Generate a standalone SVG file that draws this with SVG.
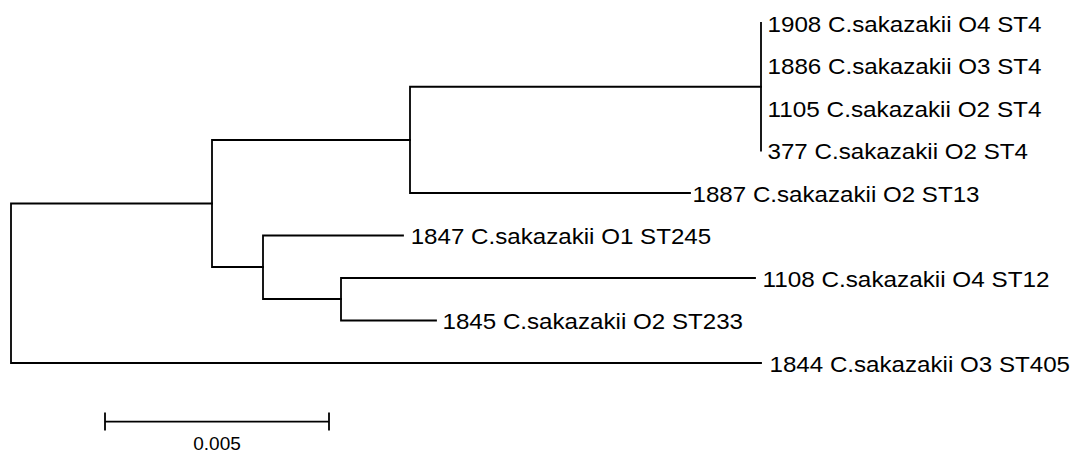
<svg xmlns="http://www.w3.org/2000/svg" width="1084" height="453" viewBox="0 0 1084 453">
  <style>
    .br { fill: none; stroke: #000; stroke-width: 1.8; stroke-linecap: square; }
    .lbl { font-family: "Liberation Sans", Arial, sans-serif; font-size: 22.5px; fill: #000; }
    .scale { font-family: "Liberation Sans", Arial, sans-serif; font-size: 19px; fill: #000; }
  </style>
  <rect width="1084" height="453" fill="#fff"/>

  <!-- tree branches -->
  <g id="connectors">
    <!-- root -->
    <path class="br" d="M11,203.5 V363 M11,203.5 H212 M11,363 H761"/>
    <!-- inner node joining the two main clades -->
    <path class="br" d="M212,140 V267 M212,140 H410 M212,267 H263"/>
    <!-- ST4 / ST13 clade -->
    <path class="br" d="M410,86.75 V193 M410,86.75 H761 M410,193 H690"/>
    <!-- ST4 polytomy -->
    <path class="br" d="M761,23 V150.5"/>
    <!-- ST245 / ST12 / ST233 clade -->
    <path class="br" d="M263,235.5 V299 M263,235.5 H403 M263,299 H341"/>
    <path class="br" d="M341,278 V320.5 M341,278 H755 M341,320.5 H436"/>
  </g>

  <!-- leaves (labels are slightly widened to the tree's print width) -->
  <g id="leaf-1908"><text class="lbl" x="767.5" y="31.5" textLength="274" lengthAdjust="spacingAndGlyphs">1908 C.sakazakii O4 ST4</text></g>
  <g id="leaf-1886"><text class="lbl" x="767.5" y="74" textLength="274" lengthAdjust="spacingAndGlyphs">1886 C.sakazakii O3 ST4</text></g>
  <g id="leaf-1105"><text class="lbl" x="767.5" y="116.5" textLength="274" lengthAdjust="spacingAndGlyphs">1105 C.sakazakii O2 ST4</text></g>
  <g id="leaf-377"><text class="lbl" x="767.5" y="159" textLength="260.5" lengthAdjust="spacingAndGlyphs">377 C.sakazakii O2 ST4</text></g>
  <g id="leaf-1887"><text class="lbl" x="692.5" y="201.5" textLength="287" lengthAdjust="spacingAndGlyphs">1887 C.sakazakii O2 ST13</text></g>
  <g id="leaf-1847"><text class="lbl" x="410.7" y="244" textLength="300.5" lengthAdjust="spacingAndGlyphs">1847 C.sakazakii O1 ST245</text></g>
  <g id="leaf-1108"><text class="lbl" x="762.5" y="286.5" textLength="287" lengthAdjust="spacingAndGlyphs">1108 C.sakazakii O4 ST12</text></g>
  <g id="leaf-1845"><text class="lbl" x="442.5" y="329" textLength="300.5" lengthAdjust="spacingAndGlyphs">1845 C.sakazakii O2 ST233</text></g>
  <g id="leaf-1844"><text class="lbl" x="769.5" y="371.5" textLength="300.5" lengthAdjust="spacingAndGlyphs">1844 C.sakazakii O3 ST405</text></g>

  <!-- scale bar -->
  <g id="scale-bar">
    <path class="br" d="M105,421.7 H329 M105,413.5 V429.5 M329,413.5 V429.5"/>
    <text class="scale" x="217" y="450" text-anchor="middle">0.005</text>
  </g>
</svg>
